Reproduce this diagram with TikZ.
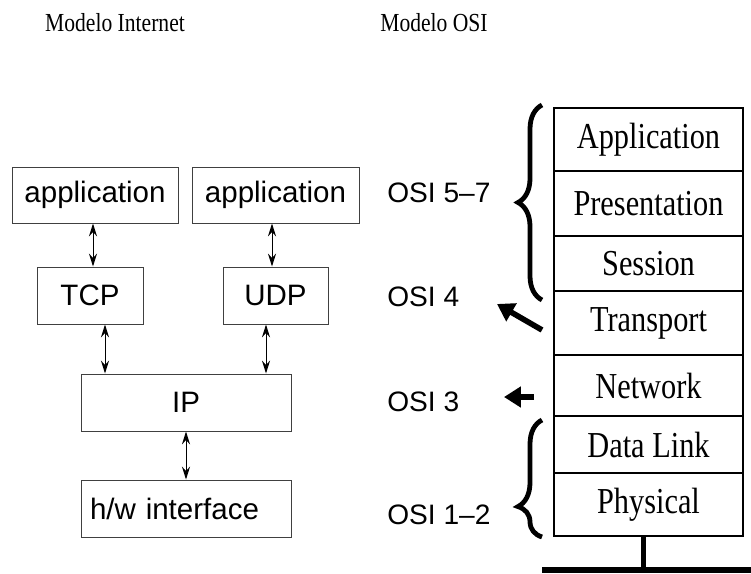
\documentclass[tikz,border=0pt]{standalone}
\usepackage{fontspec}
\setmainfont{Liberation Serif}
\newfontfamily\labfont{Liberation Sans}
\usetikzlibrary{arrows.meta, positioning, calc, decorations.pathreplacing}
\newcommand{\squeeze}[1]{\scalebox{0.83}[1]{#1}}

\begin{document}
\begin{tikzpicture}[
  inbox/.style={draw=black!75, line width=0.7pt, inner sep=2pt, font=\labfont\fontsize{21}{25}\selectfont},
  osibox/.style={draw=black, line width=1.8pt, minimum width=4.725cm, inner sep=0pt, outer sep=0pt, font=\fontsize{26}{30}\selectfont},
  lab/.style={font=\labfont\fontsize{20}{24}\selectfont, inner sep=0pt, anchor=west},
  ttl/.style={font=\fontsize{18.5}{22}\selectfont, inner sep=0pt},
  dblarr/.style={draw=black, line width=0.7pt, {Stealth[length=0.32cm,width=0.2cm]}-{Stealth[length=0.32cm,width=0.2cm]}},
  fatarr/.style={draw=black, line width=4pt, -{Triangle[length=0.42cm,width=0.5cm]}},
  brc/.style={draw=black, line width=3.4pt, decorate}
]

\useasboundingbox (0,0) rectangle (18.775,-14.325);

%--------------------------------------------------------------
% Titoli
%--------------------------------------------------------------
\node[ttl] (tint) at (2.875,-0.575) {\squeeze{Modelo Internet}};
\node[ttl] (tosi) at (10.85,-0.575) {\squeeze{Modelo OSI}};

%--------------------------------------------------------------
% Modelo Internet
%--------------------------------------------------------------
\node[inbox, minimum width=4.15cm, minimum height=1.4cm] (app1) at (2.375,-4.875) {application};
\node[inbox, minimum width=4.175cm, minimum height=1.4cm] (app2) at (6.8875,-4.875) {application};
\node[inbox, minimum width=2.65cm, minimum height=1.425cm] (tcp) at (2.25,-7.3875) {TCP};
\node[inbox, minimum width=2.625cm, minimum height=1.425cm] (udp) at (6.8875,-7.3875) {UDP};
\node[inbox, minimum width=5.25cm, minimum height=1.425cm] (ip) at (4.65,-10.0625) {IP};
\node[inbox, inner xsep=0.225cm, text width=4.8cm, align=left, minimum height=1.425cm]
  (hw) at (4.65,-12.7125) {h/w interface};

\draw[dblarr] ([xshift=-0.05cm]app1.south) coordinate (a1) -- (a1 |- tcp.north);
\draw[dblarr] ([xshift=-0.0875cm]app2.south) coordinate (a2) -- (a2 |- udp.north);
\draw[dblarr] ([xshift=0.375cm]tcp.south) coordinate (a3) -- (a3 |- ip.north);
\draw[dblarr] ([xshift=-0.2375cm]udp.south) coordinate (a4) -- (a4 |- ip.north);
\draw[dblarr] (ip.south) -- (hw.north);

%--------------------------------------------------------------
% Modelo OSI (pila dei livelli)
%--------------------------------------------------------------
\foreach \nm/\txt/\yc/\h in {app/Application/-3.4875/1.575, pre/Presentation/-5.0875/1.625,
    ses/Session/-6.5875/1.375, tra/Transport/-8.075/1.6, net/Network/-9.6375/1.525,
    dl/Data Link/-11.1125/1.425, phy/Physical/-12.6125/1.575}{
  \node[osibox, minimum height=\h cm] (\nm) at (16.2125,\yc) {\squeeze{\txt}};
}

\node[lab] (o57) at (9.675,-4.825) {OSI 5–7};
\node[lab] (o4) at (9.675,-7.425) {OSI 4};
\node[lab] (o3) at (9.675,-10.05) {OSI 3};
\node[lab] (o12) at (9.675,-12.875) {OSI 1–2};

% graffe
\draw[brc, decoration={brace, amplitude=0.6cm}]
  ([xshift=-0.3cm,yshift=-0.225cm]ses.south west) -- ([xshift=-0.3cm,yshift=0.075cm]app.north west);
\draw[brc, decoration={brace, amplitude=0.6cm, aspect=0.26}]
  ([xshift=-0.3cm,yshift=-0.025cm]phy.south west) -- ([xshift=-0.3cm,yshift=-0.1cm]dl.north west);

% frecce
\coordinate (t4) at (12.425,-7.6);
\draw[fatarr] ([xshift=-0.3cm,yshift=-0.175cm]tra.west) -- (t4);
\coordinate (t3) at (12.6,-9.925);
\draw[fatarr] ([xshift=-0.5cm,yshift=-0.2875cm]net.west) -- (t3);

% linea di collegamento
\coordinate (bus) at (16,-14.2);
\fill[black] (13.55,-14.175) rectangle (18.775,-14.325);
\draw[line width=4pt] ([xshift=-0.125cm]phy.south) coordinate (b) -- (b |- bus);

\end{tikzpicture}
\end{document}
